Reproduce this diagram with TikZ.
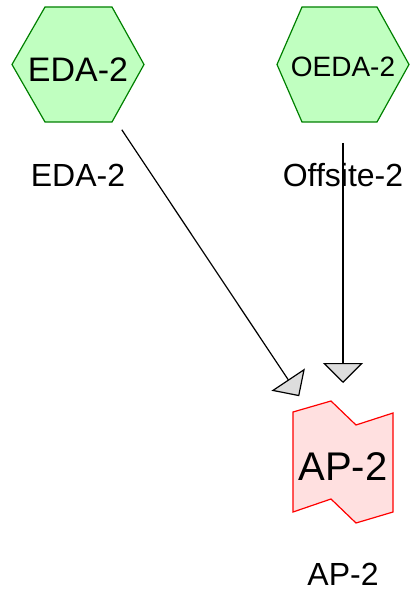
\documentclass[tikz,border=0pt]{standalone}
\usepackage{fontspec}
\setmainfont{Liberation Sans}
\usetikzlibrary{arrows.meta}
\definecolor{hexfill}{RGB}{192,255,192}
\definecolor{hexline}{RGB}{0,128,0}
\definecolor{apfill}{RGB}{255,224,224}
\definecolor{apline}{RGB}{255,0,0}
\definecolor{tipfill}{RGB}{221,221,221}
\tikzset{every picture/.style={line width=1.2pt}}
\tikzset{
  hexshape/.style={draw=hexline, fill=hexfill, line width=1.2pt},
  inner/.style={minimum width=132pt, minimum height=115pt, inner sep=0pt, text depth=0pt},
  caption/.style={anchor=base, inner sep=0pt, font=\fontsize{32}{32}\selectfont},
  link/.style={-{Triangle[length=20pt,width=40pt,fill=tipfill]}, shorten <=79pt, shorten >=79pt}
}

\begin{document}
\begin{tikzpicture}[x=1pt,y=1pt,yscale=-1,xscale=1]
\useasboundingbox (0,0) rectangle (412,593);

% Shape: Hexagon
\draw [hexshape] (12,64.5) -- (45,7) -- (112,7) -- (144,64.5) -- (112,122) -- (45,122) -- cycle ;
% Shape: Hexagon
\draw [hexshape] (277,64.5) -- (302,7) -- (377,7) -- (409,64.5) -- (377,122) -- (302,122) -- cycle ;
% Shape: folded sheet
\draw [draw=apline, fill=apfill] (293,412) -- (331,401) -- (356,425) -- (393,413) -- (393,512) -- (356,523) -- (331,499) -- (293,512) -- cycle ;

% Nodes inside the shapes
\node [inner, text height=36pt, font=\fontsize{34}{34}\selectfont] (eda) at (78,64) {EDA-2};
\node [inner, text height=26pt, font=\fontsize{28}{28}\selectfont] (oeda) at (343,64) {OEDA-2};
\node [inner, minimum width=100pt, minimum height=122pt, text height=36pt, font=\fontsize{40}{40}\selectfont] (ap) at (343,462) {AP-2};

% Text Nodes
\node [caption] (edalabel) at (78,187) {EDA-2};
\node [caption] (oedalabel) at (343,187) {Offsite-2};
\node [caption] (aplabel) at (343,585) {AP-2};

% Links
\draw [link] (eda.center) -- (ap.center);
\draw [link] (oeda.center) -- (ap.center);

\end{tikzpicture}
\end{document}
